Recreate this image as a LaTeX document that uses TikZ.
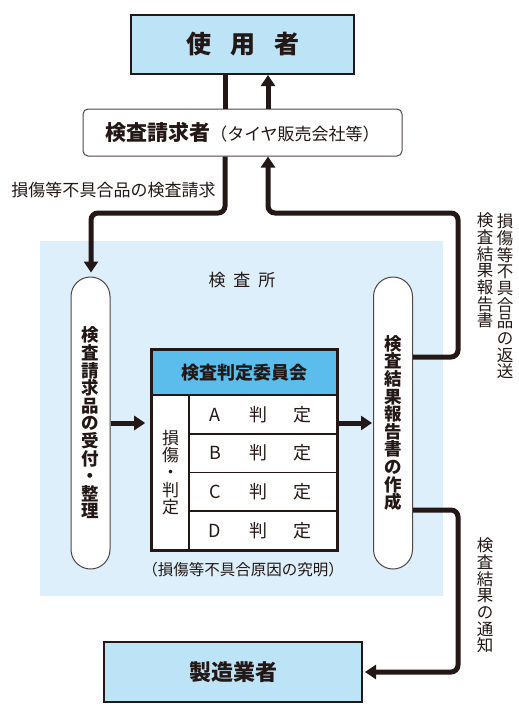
\documentclass[tikz,border=0pt]{standalone}
\usepackage{fontspec}
\setmainfont{Noto Sans CJK JP}
\usetikzlibrary{arrows.meta}
\definecolor{ink}{HTML}{231815}
\definecolor{boxblue}{HTML}{BDE3F7}
\definecolor{bgblue}{HTML}{DDEFFA}
\definecolor{headblue}{HTML}{5ABDEB}
\tikzset{
  conn/.style={draw=ink, line width=5pt, rounded corners=7pt},
  arr/.style={conn, -{Triangle[width=14pt,length=11pt]}},
  mainbox/.style={draw=ink, line width=2pt, fill=boxblue, inner sep=0pt, text=ink},
  reqbox/.style={draw=ink!80, line width=1pt, fill=white, rounded corners=5pt, inner sep=0pt, text=ink},
  pill/.style={draw=ink!80, line width=1pt, fill=white, rounded corners=19.5pt, minimum width=39pt, minimum height=292pt, inner sep=0pt, align=center, text=ink, font=\fontsize{17.5}{17.6}\selectfont\bfseries},
  cell/.style={draw=ink, line width=1.6pt, fill=white, inner sep=0pt, text=ink},
  lbl/.style={inner sep=0pt, text=ink, align=center},
  vlbl/.style={lbl, font=\fontsize{16.5}{16.7}\selectfont},
}
\begin{document}
\begin{tikzpicture}[x=1pt, y=-1pt]
\useasboundingbox (0,0) rectangle (519,712);
% inspection-site background
\fill[bgblue] (40,241) rectangle (443,596);

% coordinates for connector routing
\coordinate (xL) at (225,0);
\coordinate (xR) at (268,0);
\coordinate (xP) at (91,0);
\coordinate (xE) at (458,0);
\coordinate (yT) at (0,213);
\coordinate (yRet) at (0,357);
\coordinate (yNot) at (0,510);
\coordinate (yMid) at (0,423);

% boxes
\node[mainbox, minimum width=223pt, minimum height=59pt, font=\fontsize{25}{30}\selectfont\bfseries] (user) at (242.5,44.5) {使\hspace{19pt}用\hspace{19pt}者};
\node[reqbox, minimum width=319pt, minimum height=47pt] (req) at (242.5,132.5)
  {{\fontsize{21}{24}\selectfont\bfseries 検査請求者}{\fontsize{17}{20}\selectfont （タイヤ販売会社等）}};
\node[mainbox, minimum width=258pt, minimum height=60pt, font=\fontsize{22}{26}\selectfont\bfseries] (maker) at (233,672) {製造業者};

\node[lbl, font=\fontsize{17}{20}\selectfont] (site) at (242,280) {検\hspace{8pt}査\hspace{8pt}所};

% pills
\node[pill] (lpill) at (90.5,423) {検\\査\\請\\求\\品\\の\\受\\付\\・\\整\\理};
\node[pill] (rpill) at (393,423) {検\\査\\結\\果\\報\\告\\書\\の\\作\\成};

% committee table
\node[cell, fill=headblue, minimum width=185pt, minimum height=45pt, font=\fontsize{18}{20}\selectfont\bfseries] (hdr) at (244.5,372.5) {検査判定委員会};
\node[cell, minimum width=37pt, minimum height=155pt, align=center, font=\fontsize{17}{17.2}\selectfont] (lcol) at (170.5,472.5) {損\\傷\\・\\判\\定};
\tikzset{rowtxt/.style={cell, minimum width=148pt, minimum height=38.75pt, font=\fontsize{18}{20}\selectfont}}
\node[rowtxt] (rA) at (263,414.4) {\makebox[44pt]{A}\makebox[44pt]{判}\makebox[44pt]{定}\hspace*{8pt}};
\node[rowtxt] (rB) at (263,453.1) {\makebox[44pt]{B}\makebox[44pt]{判}\makebox[44pt]{定}\hspace*{8pt}};
\node[rowtxt] (rC) at (263,491.9) {\makebox[44pt]{C}\makebox[44pt]{判}\makebox[44pt]{定}\hspace*{8pt}};
\node[rowtxt] (rD) at (263,530.6) {\makebox[44pt]{D}\makebox[44pt]{判}\makebox[44pt]{定}\hspace*{8pt}};
\draw[ink, line width=2pt] (hdr.north west) rectangle (rD.south east);

\node[lbl, font=\fontsize{15.5}{18}\selectfont] (cap) at (243,570) {（損傷等不具合原因の究明）};

% labels
\node[lbl, font=\fontsize{17}{20}\selectfont] (reqlbl) at (113.5,190) {損傷等不具合品の検査請求};
\node[vlbl] (ret1) at (505,296.5) {損\\傷\\等\\不\\具\\合\\品\\の\\返\\送};
\node[vlbl] (ret2) at (485,270.5) {検\\査\\結\\果\\報\\告\\書};
\node[vlbl] (notlbl) at (485,595.5) {検\\査\\結\\果\\の\\通\\知};

% connectors
\draw[conn] (user.south -| xL) -- (req.north -| xL);
\draw[arr] (req.north -| xR) -- (user.south -| xR);
\draw[arr, shorten >=4pt] (req.south -| xL) -- (xL |- yT) -- (xP |- yT) -- (lpill.north -| xP);
\draw[arr] (rpill.east |- yRet) -- (xE |- yRet) -- (xE |- yT) -- (xR |- yT) -- (req.south -| xR);
\draw[arr, shorten >=2pt] (rpill.east |- yNot) -- (xE |- yNot) -- (xE |- maker.east) -- (maker.east);
\draw[arr, shorten >=6pt] (lpill.east |- yMid) -- (lcol.west |- yMid);
\draw[arr, shorten >=1pt] (hdr.east |- yMid) -- (rpill.west |- yMid);
\end{tikzpicture}
\end{document}
